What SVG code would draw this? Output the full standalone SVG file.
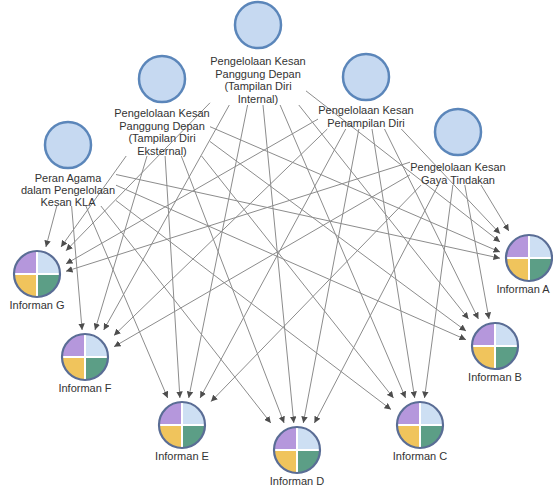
<svg xmlns="http://www.w3.org/2000/svg" xmlns:xlink="http://www.w3.org/1999/xlink" width="553" height="489" viewBox="0 0 553 489">
<style>
.lbl{font-family:"Liberation Sans",Arial,sans-serif;font-size:11px;fill:#333;text-anchor:middle}
.edge{stroke:#8c8c8c;stroke-width:1;fill:none;marker-end:url(#ah)}
.theme{fill:#c6d9f1;stroke:#5b86ba;stroke-width:2.5}
</style>
<defs>
<marker id="ah" viewBox="0 0 8 8" refX="8" refY="4" markerWidth="6.5" markerHeight="6.5" markerUnits="userSpaceOnUse" orient="auto">
<path d="M0,0 L8,4 L0,8 Z" fill="#4d4d4d"/>
</marker>
<g id="pie">
<path d="M0,0 L-23,0 A23,23 0 0 1 0,-23 Z" fill="#b597dc"/>
<path d="M0,0 L0,-23 A23,23 0 0 1 23,0 Z" fill="#cddff3"/>
<path d="M0,0 L23,0 A23,23 0 0 1 0,23 Z" fill="#5c9e86"/>
<path d="M0,0 L0,23 A23,23 0 0 1 -23,0 Z" fill="#f0c45c"/>
<path d="M-23,0 H23 M0,-23 V23" stroke="#fff" stroke-width="2"/>
<circle r="23" fill="none" stroke="#5a6d95" stroke-width="2.2"/>
</g>
</defs>
<rect width="553" height="489" fill="#fff"/>
<g id="connectors">
<line class="edge" x1="306" y1="90.9" x2="500" y2="241.9"/>
<line class="edge" x1="298.8" y1="105" x2="468.5" y2="319"/>
<line class="edge" x1="280.1" y1="105" x2="405.6" y2="398"/>
<line class="edge" x1="263" y1="105" x2="293.8" y2="423"/>
<line class="edge" x1="247.6" y1="105" x2="188.7" y2="398"/>
<line class="edge" x1="229.3" y1="105" x2="103.7" y2="330"/>
<line class="edge" x1="210" y1="102.8" x2="66" y2="250.7"/>
<line class="edge" x1="210" y1="126.7" x2="500" y2="252"/>
<line class="edge" x1="210" y1="141.5" x2="466" y2="331"/>
<line class="edge" x1="201.6" y1="156" x2="393.5" y2="398"/>
<line class="edge" x1="181.3" y1="156" x2="284.1" y2="423"/>
<line class="edge" x1="165.1" y1="156" x2="179.9" y2="398"/>
<line class="edge" x1="147" y1="156" x2="95" y2="330"/>
<line class="edge" x1="126.2" y1="156" x2="61" y2="247"/>
<line class="edge" x1="401.3" y1="129" x2="500" y2="233.7"/>
<line class="edge" x1="384.5" y1="129" x2="478.4" y2="319"/>
<line class="edge" x1="372" y1="129" x2="414.7" y2="398"/>
<line class="edge" x1="358.9" y1="129" x2="303.3" y2="423"/>
<line class="edge" x1="345.7" y1="129" x2="200.1" y2="398"/>
<line class="edge" x1="327.3" y1="129" x2="114" y2="335.4"/>
<line class="edge" x1="318" y1="119.1" x2="66" y2="263.8"/>
<line class="edge" x1="116" y1="174.5" x2="500" y2="258.2"/>
<line class="edge" x1="116" y1="185.2" x2="466" y2="339.7"/>
<line class="edge" x1="116" y1="200.5" x2="391" y2="409.5"/>
<line class="edge" x1="100.9" y1="206" x2="270.8" y2="423"/>
<line class="edge" x1="85.9" y1="206" x2="167.7" y2="398"/>
<line class="edge" x1="71.6" y1="206" x2="82.1" y2="330"/>
<line class="edge" x1="56.8" y1="206" x2="45.9" y2="247"/>
<line class="edge" x1="481" y1="185" x2="508.8" y2="231"/>
<line class="edge" x1="464.8" y1="185" x2="489" y2="319"/>
<line class="edge" x1="452.9" y1="185" x2="424.5" y2="398"/>
<line class="edge" x1="438.2" y1="185" x2="314.4" y2="423"/>
<line class="edge" x1="421.1" y1="185" x2="211" y2="401.6"/>
<line class="edge" x1="410" y1="174.9" x2="114" y2="346.7"/>
<line class="edge" x1="410" y1="162.2" x2="66" y2="271.3"/>
</g>
<g id="theme-internal">
<circle class="theme" cx="258" cy="25" r="23"/>
<text class="lbl" x="258" y="65">Pengelolaan Kesan</text>
<text class="lbl" x="258" y="77.5">Panggung Depan</text>
<text class="lbl" x="258" y="90">(Tampilan Diri</text>
<text class="lbl" x="258" y="102.5">Internal)</text>
</g>
<g id="theme-eksternal">
<circle class="theme" cx="162" cy="79" r="23"/>
<text class="lbl" x="162" y="117">Pengelolaan Kesan</text>
<text class="lbl" x="162" y="129.5">Panggung Depan</text>
<text class="lbl" x="162" y="142">(Tampilan Diri</text>
<text class="lbl" x="162" y="154.5">Eksternal)</text>
</g>
<g id="theme-penampilan">
<circle class="theme" cx="366" cy="77" r="23"/>
<text class="lbl" x="366" y="114">Pengelolaan Kesan</text>
<text class="lbl" x="366" y="126.5">Penampilan Diri</text>
</g>
<g id="theme-agama">
<circle class="theme" cx="68" cy="145" r="23"/>
<text class="lbl" x="68" y="182">Peran Agama</text>
<text class="lbl" x="68" y="194">dalam Pengelolaan</text>
<text class="lbl" x="68" y="206">Kesan KLA</text>
</g>
<g id="theme-gaya">
<circle class="theme" cx="458" cy="132" r="23"/>
<text class="lbl" x="458" y="171">Pengelolaan Kesan</text>
<text class="lbl" x="458" y="183.5">Gaya Tindakan</text>
</g>
<g id="informan-a"><use xlink:href="#pie" href="#pie" x="529" y="258"/><text class="lbl" x="523" y="293">Informan A</text></g>
<g id="informan-b"><use xlink:href="#pie" href="#pie" x="495" y="346"/><text class="lbl" x="495" y="381">Informan B</text></g>
<g id="informan-c"><use xlink:href="#pie" href="#pie" x="420" y="425"/><text class="lbl" x="420" y="460">Informan C</text></g>
<g id="informan-d"><use xlink:href="#pie" href="#pie" x="297" y="450"/><text class="lbl" x="297" y="485">Informan D</text></g>
<g id="informan-e"><use xlink:href="#pie" href="#pie" x="182" y="425"/><text class="lbl" x="182" y="460">Informan E</text></g>
<g id="informan-f"><use xlink:href="#pie" href="#pie" x="85" y="357"/><text class="lbl" x="85" y="392">Informan F</text></g>
<g id="informan-g"><use xlink:href="#pie" href="#pie" x="37" y="274"/><text class="lbl" x="37" y="309">Informan G</text></g>
</svg>
